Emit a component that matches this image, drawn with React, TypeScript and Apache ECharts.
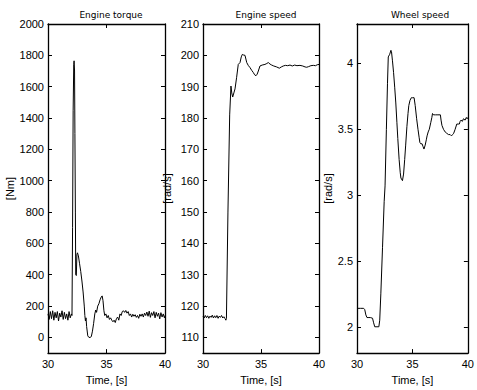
import React, { useEffect, useRef } from "react";
import * as echarts from "echarts";

const titles = ["Engine torque", "Engine speed", "Wheel speed"];
const yNames = ["[Nm]", "[rad/s]", "[rad/s]"];
const xName = "Time, [s]";
const xTicks = [30, 35, 40];
const torqueTicks = [0, 200, 400, 600, 800, 1000, 1200, 1400, 1600, 1800, 2000];
const speedTicks = [110, 120, 130, 140, 150, 160, 170, 180, 190, 200, 210];
const wheelTicks = [2, 2.5, 3, 3.5, 4];

const torque: [number, number][] = [
  [30.0, 150], [30.1, 115], [30.2, 165], [30.3, 120], [30.4, 170], [30.5, 110], [30.6, 160], [30.7, 125],
  [30.8, 165], [30.9, 105], [31.0, 155], [31.1, 130], [31.2, 170], [31.3, 115], [31.4, 160], [31.5, 120],
  [31.6, 150], [31.7, 110], [31.8, 165], [31.9, 125], [32.0, 150], [32.05, 140],
  [32.1, 700], [32.15, 1450], [32.2, 1740], [32.23, 1765], [32.27, 1700], [32.3, 1300], [32.34, 800],
  [32.37, 400], [32.42, 395], [32.47, 530], [32.52, 540], [32.6, 520], [32.7, 470], [32.8, 420],
  [32.9, 360], [33.0, 290], [33.1, 200], [33.15, 140], [33.2, 105], [33.25, 125], [33.3, 70], [33.4, 10],
  [33.5, 0], [33.6, 0], [33.7, 5], [33.8, 40], [33.9, 90], [34.0, 150], [34.08, 175], [34.15, 160],
  [34.25, 200], [34.35, 215], [34.45, 240], [34.55, 258], [34.63, 265], [34.7, 235], [34.78, 170],
  [34.85, 140], [34.95, 150], [35.05, 125], [35.15, 140], [35.25, 115], [35.35, 125], [35.45, 110],
  [35.55, 100], [35.65, 110], [35.75, 95], [35.85, 120], [35.95, 130], [36.05, 110], [36.15, 150],
  [36.25, 140], [36.35, 165], [36.45, 170], [36.55, 160], [36.65, 172], [36.75, 155], [36.85, 165],
  [36.95, 140], [37.05, 150], [37.15, 130], [37.25, 148], [37.35, 135], [37.45, 145], [37.55, 128],
  [37.65, 140], [37.75, 122], [37.85, 148], [37.95, 135], [38.05, 150], [38.15, 130], [38.25, 155],
  [38.35, 140], [38.45, 162], [38.55, 135], [38.65, 168], [38.75, 128], [38.85, 158], [38.95, 140],
  [39.05, 165], [39.15, 125], [39.25, 160], [39.35, 135], [39.45, 155], [39.55, 118], [39.65, 158],
  [39.75, 130], [39.85, 150], [39.95, 125], [40.0, 140],
];

const engineSpeed: [number, number][] = [
  [30.0, 116.8], [30.1, 116.2], [30.2, 117.0], [30.3, 116.3], [30.4, 116.9], [30.5, 116.1], [30.6, 116.8],
  [30.7, 116.4], [30.8, 117.1], [30.9, 116.2], [31.0, 116.9], [31.1, 116.3], [31.2, 117.0], [31.3, 116.1],
  [31.4, 116.8], [31.5, 116.4], [31.6, 117.0], [31.7, 116.2], [31.8, 116.6], [31.9, 116.0], [31.97, 115.5],
  [32.02, 116], [32.15, 150], [32.3, 181], [32.41, 190.2], [32.48, 188], [32.56, 186.7], [32.66, 188],
  [32.76, 189.3], [32.9, 193], [33.04, 197.1], [33.19, 197.7], [33.3, 199.5], [33.39, 200.3], [33.5, 200.1],
  [33.62, 200], [33.77, 197.7], [33.9, 196.8], [34.05, 196.1], [34.2, 195.2], [34.34, 194.5], [34.45, 193.8],
  [34.57, 193.5], [34.67, 194], [34.77, 195], [34.91, 196.6], [35.1, 196.9], [35.34, 197.1], [35.5, 197.4],
  [35.63, 197.7], [35.78, 197.2], [35.92, 196.9], [36.1, 196.6], [36.35, 196.3], [36.58, 195.9],
  [36.75, 196.3], [36.92, 196.6], [37.1, 196.8], [37.3, 196.7], [37.5, 196.9], [37.7, 196.6], [37.9, 196.9],
  [38.1, 196.7], [38.36, 196.8], [38.6, 196.6], [38.8, 196.3], [38.94, 196.2], [39.1, 196.4], [39.3, 196.7],
  [39.51, 196.8], [39.7, 196.7], [39.85, 197.0], [40.0, 197.1],
];

const wheelSpeed: [number, number][] = [
  [30.0, 2.14], [30.3, 2.14], [30.6, 2.14], [30.7, 2.13], [30.8, 2.09], [30.9, 2.07], [31.0, 2.07],
  [31.2, 2.07], [31.4, 2.065], [31.5, 2.03], [31.6, 2.0], [31.8, 2.0], [31.97, 2.0], [32.05, 2.05],
  [32.15, 2.25], [32.3, 2.6], [32.45, 2.95], [32.53, 3.07], [32.65, 3.5], [32.75, 3.85], [32.82, 4.05],
  [32.95, 4.07], [33.06, 4.1], [33.11, 4.09], [33.2, 4.02], [33.3, 3.93], [33.4, 3.82], [33.5, 3.7],
  [33.6, 3.55], [33.68, 3.43], [33.8, 3.27], [33.9, 3.17], [33.96, 3.13], [34.1, 3.11], [34.2, 3.16],
  [34.3, 3.27], [34.39, 3.38], [34.5, 3.52], [34.6, 3.62], [34.67, 3.68], [34.78, 3.72], [34.9, 3.74],
  [35.0, 3.74], [35.15, 3.74], [35.25, 3.68], [35.38, 3.58], [35.5, 3.5], [35.6, 3.44], [35.67, 3.4],
  [35.75, 3.39], [35.87, 3.39], [35.95, 3.37], [36.04, 3.35], [36.15, 3.38], [36.25, 3.42], [36.32, 3.45],
  [36.42, 3.48], [36.52, 3.5], [36.65, 3.55], [36.75, 3.59], [36.81, 3.62], [36.9, 3.61], [37.09, 3.61],
  [37.3, 3.61], [37.52, 3.61], [37.58, 3.57], [37.66, 3.53], [37.8, 3.5], [37.95, 3.48], [38.09, 3.47],
  [38.25, 3.46], [38.4, 3.46], [38.52, 3.45], [38.62, 3.46], [38.72, 3.47], [38.85, 3.5], [39.0, 3.54],
  [39.12, 3.54], [39.23, 3.54], [39.3, 3.56], [39.38, 3.57], [39.5, 3.56], [39.6, 3.58], [39.66, 3.58],
  [39.75, 3.57], [39.86, 3.59], [39.93, 3.58], [40.0, 3.59],
];

const panels = [
  { data: torque, yMin: -100, yMax: 2000, yTicks: torqueTicks, left: 48, width: 117, nameGap: 30, cx: 106 },
  { data: engineSpeed, yMin: 105, yMax: 210, yTicks: speedTicks, left: 203, width: 116, nameGap: 31, cx: 261 },
  { data: wheelSpeed, yMin: 1.8, yMax: 4.3, yTicks: wheelTicks, left: 357, width: 117, nameGap: 17, cx: 415 },
];

const FONT = "Liberation Sans, Arial, sans-serif";
const fmt = (v: number) => String(v);

export default function App() {
  const ref = useRef<HTMLDivElement>(null);
  useEffect(() => {
    document.body.style.margin = "0";
    if (!ref.current) return;
    const chart = echarts.init(ref.current, null, { renderer: "svg" });
    const lineStyle = { color: "#000", width: 1.3 };
    const tick = { inside: true, length: 4, lineStyle: { color: "#000", width: 1 } };
    const grid: any[] = [];
    const xAxis: any[] = [];
    const yAxis: any[] = [];
    const series: any[] = [];
    const title: any[] = [];
    panels.forEach((p, i) => {
      grid.push({ left: p.left, top: 24, width: p.width, height: 335 });
      xAxis.push({
        type: "value", gridIndex: i, position: "bottom", min: 30, max: 40,
        axisLine: { onZero: false, lineStyle }, axisTick: { ...tick, customValues: xTicks },
        axisLabel: { customValues: xTicks, formatter: fmt, color: "#000", fontSize: 11, fontFamily: FONT, margin: 5 },
        splitLine: { show: false },
        name: xName, nameLocation: "middle", nameGap: 16,
        nameTextStyle: { color: "#000", fontSize: 11, fontFamily: FONT },
      });
      xAxis.push({
        type: "value", gridIndex: i, position: "top", min: 30, max: 40,
        axisLine: { onZero: false, lineStyle }, axisTick: { ...tick, customValues: xTicks },
        axisLabel: { show: false }, splitLine: { show: false },
      });
      yAxis.push({
        type: "value", gridIndex: i, position: "left", min: p.yMin, max: p.yMax,
        axisLine: { show: true, onZero: false, lineStyle }, axisTick: { show: true, ...tick, customValues: p.yTicks },
        axisLabel: { customValues: p.yTicks, formatter: fmt, color: "#000", fontSize: 11, fontFamily: FONT, margin: 4 },
        splitLine: { show: false },
        name: yNames[i], nameLocation: "middle", nameGap: p.nameGap,
        nameTextStyle: { color: "#000", fontSize: 11, fontFamily: FONT },
      });
      yAxis.push({
        type: "value", gridIndex: i, position: "right", min: p.yMin, max: p.yMax,
        axisLine: { show: true, onZero: false, lineStyle }, axisTick: { show: true, ...tick, customValues: p.yTicks },
        axisLabel: { show: false }, splitLine: { show: false },
      });
      series.push({
        type: "line", xAxisIndex: 2 * i, yAxisIndex: 2 * i, data: p.data,
        showSymbol: false, symbol: "none",
        lineStyle: { color: "#000", width: 1 },
      });
      title.push({
        text: titles[i], left: p.cx, top: 5, textAlign: "center",
        textStyle: { color: "#000", fontSize: 9, fontWeight: "normal", fontFamily: "DejaVu Sans, sans-serif" },
      });
    });
    chart.setOption({ animation: false, backgroundColor: "#fff", title, grid, xAxis, yAxis, series });
    return () => chart.dispose();
  }, []);
  return <div ref={ref} style={{ position: "fixed", left: 0, top: 0, width: 477, height: 390 }} />;
}
